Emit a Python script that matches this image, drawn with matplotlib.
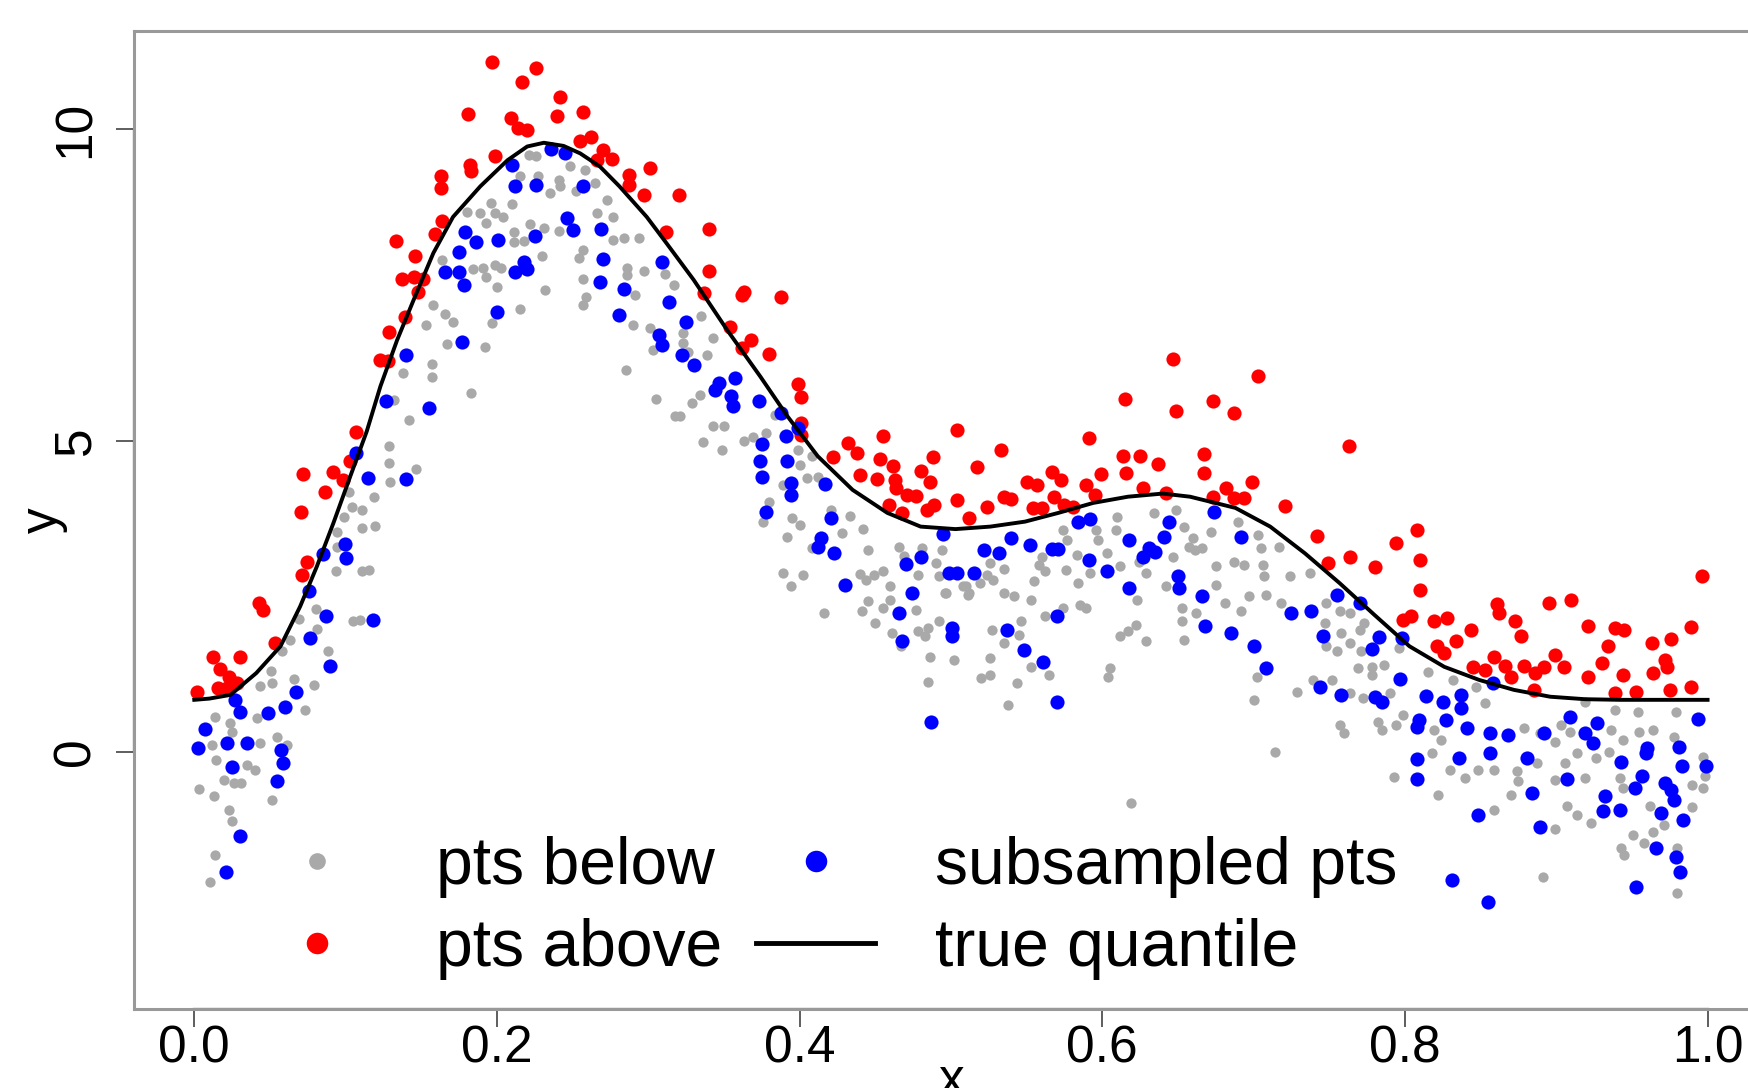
import matplotlib
matplotlib.use('Agg')
import matplotlib.pyplot as plt
from matplotlib.lines import Line2D
import numpy as np

plt.rcParams['font.family'] = ['Liberation Sans', 'DejaVu Sans']

# points above the true quantile (red)
red_x = [0.197, 0.226, 0.2165, 0.242, 0.181, 0.209, 0.240, 0.257, 0.214, 0.220, 0.255, 0.262, 0.270, 0.276, 0.266,
         0.199, 0.182, 0.183, 0.287, 0.287, 0.301, 0.297, 0.320, 0.163, 0.163, 0.164, 0.159, 0.312, 0.133, 0.146,
         0.137, 0.145, 0.151, 0.148, 0.139, 0.129, 0.123, 0.128, 0.107,
         0.0718, 0.092, 0.103, 0.098, 0.0865, 0.0705, 0.0744, 0.0711, 0.0425, 0.0454, 0.0535, 0.0123, 0.030, 0.0172,
         0.0227, 0.0282, 0.016, 0.0018, 0.0216,
         0.340, 0.340, 0.362, 0.363, 0.388, 0.337,
         0.354, 0.368, 0.362, 0.380, 0.399, 0.401, 0.401, 0.401, 0.422, 0.432, 0.438, 0.455, 0.453, 0.440, 0.451,
         0.462, 0.463, 0.464, 0.471, 0.477, 0.459, 0.468, 0.488, 0.480, 0.486, 0.489, 0.484, 0.504, 0.517, 0.504,
         0.512, 0.524, 0.533, 0.535, 0.540, 0.550, 0.557, 0.567, 0.573, 0.554, 0.560, 0.568, 0.575, 0.581, 0.589,
         0.591, 0.595, 0.599, 0.615, 0.614, 0.616, 0.625, 0.627, 0.637, 0.642, 0.647, 0.649, 0.667, 0.667, 0.673,
         0.673,
         0.703, 0.687, 0.763, 0.699, 0.682, 0.687, 0.694, 0.721, 0.742, 0.749, 0.764, 0.780, 0.794, 0.808, 0.810,
         0.810, 0.799, 0.804, 0.819, 0.828, 0.821, 0.826, 0.834, 0.844, 0.861, 0.862, 0.873, 0.877, 0.859, 0.845,
         0.853, 0.866, 0.870, 0.879, 0.886, 0.892, 0.885, 0.899, 0.905, 0.895, 0.910, 0.921, 0.934, 0.930, 0.921,
         0.939, 0.945, 0.944, 0.939, 0.953, 0.963, 0.964, 0.972, 0.973, 0.976, 0.975, 0.989, 0.989, 0.996]
red_y = [11.07, 10.98, 10.75, 10.52, 10.24, 10.17, 10.21, 10.28, 10.01, 9.99, 9.81, 9.87, 9.67, 9.52, 9.50,
         9.57, 9.42, 9.33, 9.26, 9.10, 9.37, 8.94, 8.94, 9.24, 9.05, 8.52, 8.31, 8.34, 8.20, 7.96,
         7.60, 7.62, 7.59, 7.39, 6.98, 6.75, 6.30, 6.27, 5.14,
         4.46, 4.49, 4.67, 4.37, 4.18, 3.86, 3.06, 2.85, 2.39, 2.28, 1.75, 1.53, 1.53, 1.33,
         1.21, 1.11, 1.03, 0.97, 1.03,
         8.39, 7.73, 7.34, 7.39, 7.31, 7.37,
         6.83, 6.62, 6.48, 6.39, 5.91, 5.70, 5.29, 5.09, 4.73, 4.96, 4.80, 5.07, 4.70, 4.45, 4.39,
         4.60, 4.37, 4.24, 4.13, 4.11, 3.97, 3.84, 4.73, 4.52, 4.34, 3.97, 3.88, 5.17, 4.58, 4.05,
         3.76, 3.94, 4.85, 4.10, 4.06, 4.34, 4.29, 4.50, 4.37, 3.92, 3.92, 4.09, 3.97, 3.94, 4.29,
         5.04, 4.13, 4.47, 5.67, 4.75, 4.48, 4.76, 4.24, 4.63, 4.16, 6.31, 5.48, 4.79, 4.48, 5.63,
         4.10,
         6.04, 5.45, 4.92, 4.34, 4.24, 4.08, 4.08, 3.95, 3.47, 3.03, 3.13, 2.97, 3.35, 3.56, 3.08,
         2.61, 2.12, 2.18, 2.10, 2.15, 1.70, 1.59, 1.78, 1.96, 2.38, 2.23, 2.11, 1.87, 1.53, 1.36,
         1.32, 1.39, 1.21, 1.39, 1.27, 1.37, 0.99, 1.56, 1.37, 2.39, 2.44, 2.02, 1.70, 1.43, 1.21,
         1.99, 1.96, 1.24, 0.95, 0.96, 1.75, 1.27, 1.48, 1.37, 1.81, 1.00, 2.01, 1.05, 2.83]

# subsampled points (blue)
blue_x = [0.236, 0.245, 0.210, 0.212, 0.226, 0.257, 0.246, 0.250, 0.269, 0.179, 0.186, 0.201, 0.225, 0.175, 0.270,
          0.166, 0.175, 0.178, 0.212, 0.218, 0.220, 0.268, 0.309, 0.284, 0.314, 0.281, 0.325, 0.307, 0.309, 0.322,
          0.330, 0.200, 0.177, 0.140, 0.127, 0.155,
          0.107, 0.1145, 0.140, 0.0998, 0.0854, 0.100, 0.0755, 0.0872, 0.1178, 0.0766, 0.0894, 0.0672, 0.0271,
          0.0300, 0.0485, 0.0597, 0.0073, 0.0022, 0.0216, 0.0348, 0.0573, 0.0584, 0.0249, 0.055, 0.0304, 0.0211,
          0.357, 0.347, 0.344, 0.355, 0.356, 0.373, 0.388, 0.399, 0.391, 0.375, 0.374, 0.392, 0.375, 0.394, 0.394,
          0.417, 0.378, 0.421, 0.414, 0.412, 0.423, 0.430, 0.470, 0.480, 0.495, 0.499, 0.504, 0.515, 0.474, 0.466,
          0.468, 0.501, 0.501, 0.522, 0.532, 0.540, 0.552, 0.567, 0.571, 0.584, 0.592, 0.591, 0.603, 0.618, 0.618,
          0.631, 0.627, 0.635, 0.641, 0.644, 0.650, 0.651, 0.666, 0.668, 0.674, 0.537, 0.548, 0.561, 0.570, 0.570,
          0.487,
          0.692, 0.685, 0.700, 0.708, 0.725, 0.738, 0.755, 0.770, 0.746, 0.783, 0.778, 0.798, 0.797, 0.744, 0.758,
          0.780, 0.785, 0.814, 0.825, 0.837, 0.837, 0.858, 0.909, 0.927, 0.994, 0.856, 0.868, 0.892, 0.919, 0.924,
          0.808, 0.809, 0.827, 0.841,
          0.808, 0.808, 0.836, 0.856, 0.848, 0.881, 0.884, 0.889, 0.907, 0.932, 0.931, 0.942, 0.943, 0.957, 0.952,
          0.960, 0.959, 0.972, 0.976, 0.978, 0.969, 0.984, 0.981, 0.983, 0.999, 0.966, 0.979, 0.982, 0.953, 0.831,
          0.855]
blue_y = [9.68, 9.61, 9.43, 9.08, 9.11, 9.09, 8.57, 8.38, 8.39, 8.35, 8.18, 8.22, 8.29, 8.02, 7.91,
          7.70, 7.70, 7.49, 7.70, 7.86, 7.75, 7.55, 7.86, 7.44, 7.22, 7.02, 6.91, 6.70, 6.53, 6.37,
          6.21, 7.07, 6.59, 6.37, 5.63, 5.53,
          4.80, 4.40, 4.38, 3.34, 3.18, 3.11, 2.59, 2.18, 2.12, 1.83, 1.38, 0.97, 0.84,
          0.65, 0.63, 0.72, 0.37, 0.06, 0.14, 0.15, 0.04, -0.18, -0.23, -0.46, -1.35, -1.92,
          6.00, 5.92, 5.82, 5.71, 5.55, 5.63, 5.44, 5.20, 5.07, 4.95, 4.68, 4.68, 4.42, 4.32, 4.13,
          4.31, 3.86, 3.76, 3.43, 3.30, 3.19, 2.69, 3.02, 3.14, 3.50, 2.88, 2.88, 2.88, 2.55, 2.24,
          1.78, 1.99, 1.86, 3.25, 3.19, 3.43, 3.33, 3.26, 3.26, 3.69, 3.74, 3.09, 2.90, 3.41, 2.63,
          3.27, 3.14, 3.22, 3.46, 3.70, 2.82, 2.63, 2.51, 2.02, 3.86, 1.96, 1.64, 1.44, 2.19, 0.81,
          0.49,
          3.46, 1.91, 1.70, 1.35, 2.23, 2.26, 2.52, 2.40, 1.86, 1.85, 1.65, 1.83, 1.17, 1.04, 0.92,
          0.88, 0.81, 0.90, 0.81, 0.92, 0.71, 1.11, 0.57, 0.47, 0.53, 0.30, 0.28, 0.30, 0.30, 0.14,
          0.41, 0.51, 0.51, 0.38,
          -0.11, -0.43, -0.10, -0.02, -1.01, -0.10, -0.66, -1.20, -0.43, -0.71, -0.94, -0.93, -0.15, -0.38, -0.58,
          0.06, -0.02, -0.49, -0.60, -0.77, -0.98, -1.09, 0.08, -0.22, -0.22, -1.54, -1.68, -1.92, -2.17, -2.05,
          -2.40]

# points below the true quantile (gray)
gray_x = [0.221, 0.226, 0.248, 0.258, 0.215, 0.227, 0.241, 0.242, 0.235, 0.252, 0.265, 0.273, 0.196, 0.210, 0.180,
          0.189, 0.199, 0.204, 0.193, 0.222, 0.231, 0.211, 0.241, 0.266, 0.277, 0.211, 0.218, 0.277, 0.284, 0.294,
          0.257, 0.254, 0.230, 0.164, 0.184, 0.191, 0.199, 0.203, 0.193, 0.200, 0.286, 0.297, 0.286, 0.311, 0.257,
          0.232, 0.317, 0.291, 0.158, 0.166, 0.171, 0.153, 0.259, 0.257, 0.215, 0.197, 0.290, 0.301, 0.323, 0.323,
          0.326, 0.167, 0.192, 0.303, 0.157, 0.157, 0.138, 0.285, 0.183, 0.305, 0.329, 0.318, 0.142, 0.132,
          0.1288, 0.129, 0.1295, 0.1467, 0.1185, 0.102, 0.1045, 0.111, 0.0987, 0.1108, 0.1196, 0.0943, 0.0943,
          0.0938, 0.111, 0.1152, 0.0806, 0.0689, 0.1048, 0.1096, 0.081, 0.0634, 0.058, 0.0887, 0.0506, 0.0513,
          0.0432, 0.0656, 0.0788, 0.0733, 0.0414, 0.0139, 0.0238, 0.025, 0.0546, 0.0436, 0.0612, 0.0117, 0.0145,
          0.0348, 0.0403, 0.0260, 0.0194, 0.0260, 0.031, 0.0029, 0.0128, 0.0513, 0.0227, 0.025, 0.0134, 0.0106,
          0.335, 0.343, 0.339, 0.334, 0.343, 0.350, 0.336, 0.349, 0.363, 0.369, 0.378, 0.384, 0.399, 0.400, 0.408,
          0.405, 0.412, 0.380, 0.389, 0.395, 0.400, 0.376, 0.392, 0.421, 0.433, 0.428, 0.442, 0.445, 0.408, 0.389,
          0.402, 0.394, 0.440, 0.449, 0.455, 0.444, 0.460, 0.466, 0.469, 0.481, 0.494, 0.490, 0.478, 0.492, 0.496,
          0.510, 0.512, 0.519, 0.524, 0.526, 0.535, 0.528, 0.535, 0.542, 0.553, 0.558, 0.562, 0.560, 0.555, 0.574,
          0.577, 0.583, 0.576, 0.584, 0.592, 0.596, 0.597, 0.610, 0.609, 0.603, 0.612, 0.624, 0.629, 0.623, 0.634,
          0.649, 0.654, 0.660, 0.661, 0.657, 0.647, 0.672, 0.675, 0.675, 0.642, 0.653, 0.653, 0.662, 0.654, 0.629,
          0.612, 0.617, 0.622, 0.585, 0.589, 0.605, 0.604, 0.562, 0.574, 0.565, 0.553, 0.544, 0.538, 0.546, 0.545,
          0.535, 0.527, 0.526, 0.520, 0.526, 0.508, 0.511, 0.497, 0.492, 0.485, 0.478, 0.483, 0.486, 0.502, 0.485,
          0.461, 0.467, 0.450, 0.445, 0.441, 0.455, 0.460, 0.477, 0.416, 0.321, 0.619,
          0.690, 0.703, 0.666, 0.705, 0.717, 0.687, 0.694, 0.706, 0.707, 0.724, 0.737, 0.697, 0.708, 0.718, 0.681,
          0.692, 0.748, 0.757, 0.764, 0.747, 0.770, 0.773, 0.758, 0.748, 0.755, 0.764, 0.771, 0.769, 0.778, 0.786,
          0.778, 0.796, 0.815, 0.832, 0.847, 0.853, 0.702, 0.700, 0.729, 0.739, 0.752, 0.764, 0.772, 0.790, 0.757,
          0.760, 0.782, 0.785, 0.794, 0.799, 0.819, 0.824, 0.919, 0.939, 0.954, 0.979, 0.936, 0.944, 0.955, 0.964,
          0.978, 0.879, 0.889, 0.903, 0.909, 0.899,
          0.714, 0.793, 0.822, 0.818, 0.830, 0.840, 0.848, 0.859, 0.859, 0.870, 0.874, 0.875, 0.887, 0.899, 0.899,
          0.907, 0.914, 0.919, 0.923, 0.906, 0.914, 0.891, 0.942, 0.944, 0.951, 0.958, 0.943, 0.945, 0.962, 0.964,
          0.971, 0.980, 0.980, 0.990, 0.990, 0.997, 0.998, 0.997, 0.935, 0.926]
gray_y = [9.58, 9.56, 9.41, 9.34, 9.24, 9.24, 9.18, 9.08, 8.97, 9.00, 9.13, 8.86, 8.82, 8.80, 8.67,
          8.65, 8.65, 8.59, 8.50, 8.48, 8.42, 8.35, 8.37, 8.65, 8.59, 8.19, 8.21, 8.22, 8.25, 8.25,
          8.06, 7.93, 7.96, 7.90, 7.75, 7.77, 7.82, 7.77, 7.62, 7.47, 7.77, 7.72, 7.66, 7.68, 7.60,
          7.42, 7.50, 7.33, 7.18, 7.03, 6.91, 6.86, 7.31, 7.18, 7.12, 6.88, 6.86, 6.80, 6.72, 6.56,
          6.43, 6.55, 6.51, 6.45, 6.23, 6.02, 6.08, 6.13, 5.77, 5.67, 5.60, 5.40, 5.33, 5.65,
          4.92, 4.64, 4.33, 4.54, 4.10, 4.18, 3.94, 3.89, 3.78, 3.60, 3.63, 3.54, 3.30,
          2.90, 2.90, 2.93, 2.30, 2.14, 2.10, 2.12, 1.97, 1.80, 1.62, 1.62, 1.31, 1.11,
          1.07, 1.17, 1.08, 0.68, 0.55, 0.57, 0.47, 0.33, 0.25, 0.14, 0.12, 0.12, -0.12,
          -0.20, -0.28, -0.26, -0.44, -0.50, -0.49, -0.59, -0.71, -0.77, -0.92, -1.11, -1.65, -2.08,
          7.00, 6.64, 6.38, 5.74, 5.24, 5.23, 4.97, 4.85, 4.99, 5.06, 5.12, 5.41, 4.85, 4.61, 4.75,
          4.40, 4.42, 4.02, 4.29, 3.76, 3.65, 3.70, 3.45, 3.89, 3.79, 3.51, 3.58, 3.24, 3.27, 2.88,
          2.85, 2.67, 2.86, 2.85, 2.90, 2.77, 2.66, 3.30, 3.15, 3.27, 3.24, 3.03, 2.85, 2.82, 2.55,
          2.66, 2.55, 2.71, 2.85, 3.03, 2.94, 2.77, 2.55, 2.50, 2.44, 3.01, 2.90, 3.14, 2.74, 3.57,
          3.41, 3.17, 2.93, 2.71, 2.87, 3.57, 3.41, 3.78, 3.57, 3.19, 2.98, 3.06, 2.87, 2.44, 3.84,
          3.89, 3.62, 3.43, 3.25, 3.30, 3.14, 3.54, 2.98, 2.69, 2.66, 2.31, 2.10, 2.23, 1.80, 1.78,
          1.86, 1.94, 2.04, 2.36, 2.31, 1.35, 1.21, 2.18, 2.31, 1.24, 1.37, 1.11, 0.76, 2.10, 1.88,
          1.75, 1.96, 1.51, 1.19, 1.24, 2.66, 2.53, 2.55, 2.10, 1.99, 1.94, 1.86, 1.53, 1.48, 1.13,
          1.91, 1.70, 2.07, 2.42, 2.26, 2.31, 2.44, 2.28, 2.24, 5.39, -0.81,
          3.70, 3.49, 3.27, 3.27, 3.30, 3.06, 3.01, 3.01, 2.82, 2.83, 2.87, 2.51, 2.52, 2.39, 2.39,
          2.26, 2.39, 2.26, 2.23, 2.07, 1.96, 2.07, 1.91, 1.70, 1.62, 1.75, 1.62, 1.35, 1.37, 1.40,
          1.24, 1.67, 1.28, 1.16, 1.04, 0.79, 1.21, 0.83, 0.97, 1.16, 1.16, 0.95, 0.87, 0.95, 0.44,
          0.30, 0.49, 0.36, 0.44, 0.60, 0.36, 0.20, 0.81, 0.67, 0.65, 0.64, 0.36, 0.20, 0.33, 0.36,
          0.25, 0.38, 0.30, 0.44, 0.33, 0.17,
          0.01, -0.40, -0.69, -0.02, -0.29, -0.42, -0.28, -0.28, -0.93, -0.69, -0.31, -0.47, -0.18, -1.24, -0.45,
          -0.87, -1.01, -0.42, -1.13, -0.18, -0.02, -2.00, -0.42, -0.58, -1.33, -1.46, -1.54, -1.65, -0.86, -1.28,
          -1.17, -1.54, -2.26, -0.52, -0.88, -0.58, -0.39, -0.07, 0.01, -0.10]

# true quantile curve
curve_x = [0.000, 0.010, 0.024, 0.041, 0.057, 0.070, 0.081, 0.092, 0.103, 0.114, 0.123, 0.134, 0.145, 0.158, 0.171,
           0.189, 0.207, 0.220, 0.231, 0.244, 0.255, 0.268, 0.281, 0.299, 0.312, 0.330, 0.352, 0.374, 0.392, 0.412,
           0.435, 0.458, 0.480, 0.503, 0.526, 0.549, 0.571, 0.594, 0.617, 0.640, 0.658, 0.688, 0.711, 0.734, 0.757,
           0.780, 0.803, 0.826, 0.849, 0.872, 0.896, 0.919, 0.942, 1.000]
curve_y = [0.84, 0.86, 0.92, 1.27, 1.70, 2.34, 2.98, 3.68, 4.42, 5.15, 5.87, 6.61, 7.26, 8.01, 8.59,
           9.08, 9.50, 9.72, 9.78, 9.73, 9.61, 9.40, 9.08, 8.59, 8.17, 7.58, 6.78, 6.03, 5.39, 4.75,
           4.21, 3.84, 3.62, 3.58, 3.62, 3.70, 3.84, 4.00, 4.10, 4.15, 4.10, 3.92, 3.62, 3.19, 2.71,
           2.20, 1.70, 1.37, 1.16, 1.00, 0.89, 0.85, 0.84, 0.84]

x_ticks = [0.0, 0.2, 0.4, 0.6, 0.8, 1.0]
x_labels = ['0.0', '0.2', '0.4', '0.6', '0.8', '1.0']
y_ticks = [0, 5, 10]
y_labels = ['0', '5', '10']


def main():
    fig = plt.figure(figsize=(17.48, 10.88), dpi=100)
    ax = fig.add_axes([0.0765, 0.0727, 0.935, 0.8986])

    ax.plot(gray_x, gray_y, 'o', color='darkgray', ms=7.4, mew=0)
    ax.plot(red_x, red_y, 'o', color='red', ms=10.2, mew=0)
    ax.plot(blue_x, blue_y, 'o', color='blue', ms=10.2, mew=0)
    ax.plot(curve_x, curve_y, color='black', lw=2.8)

    ax.set_xlim(-0.04, 1.04)
    ax.set_ylim(-4.12, 11.57)

    ax.set_xticks(x_ticks)
    ax.set_xticklabels(x_labels, fontsize=37)
    ax.set_yticks(y_ticks)
    ax.set_yticklabels(y_labels, fontsize=37, rotation=90, va='center')
    ax.tick_params(axis='both', direction='out', length=13, width=1.1, color='#333333')
    ax.tick_params(axis='x', pad=-2)
    ax.tick_params(axis='y', pad=11)

    for s in ax.spines.values():
        s.set_color('#999999')
        s.set_linewidth(2.2)
    # darker axis lines between first and last tick (R style)
    ax.plot([x_ticks[0], x_ticks[-1]], [-4.12, -4.12], color='#444444', lw=1.6, clip_on=False)
    ax.plot([-0.04, -0.04], [y_ticks[0], y_ticks[-1]], color='#444444', lw=1.6, clip_on=False)

    ax.set_xlabel('x', fontsize=37)
    ax.xaxis.set_label_coords(0.5, -0.0878)
    ax.xaxis.label.set_va('baseline')
    ax.set_ylabel('y', fontsize=37)
    ax.yaxis.set_label_coords(-0.047, 0.5)
    ax.yaxis.label.set_va('baseline')

    handles = [
        Line2D([], [], ls='none', marker='o', color='darkgray', ms=12, mew=0),
        Line2D([], [], ls='none', marker='o', color='red', ms=15.5, mew=0),
        Line2D([], [], ls='none', marker='o', color='blue', ms=15.5, mew=0),
        Line2D([], [], color='black', lw=3.5),
    ]
    labels = ['pts below', 'pts above', 'subsampled pts', 'true quantile']
    ax.legend(handles, labels, ncol=2, frameon=False, fontsize=47.5,
              loc='upper left', bbox_to_anchor=(0.076, 0.177),
              borderpad=0, borderaxespad=0, handlelength=1.8, handletextpad=0.9,
              columnspacing=0.52, labelspacing=0.3)

    fig.savefig('out.png', dpi=100)


if __name__ == '__main__':
    main()
